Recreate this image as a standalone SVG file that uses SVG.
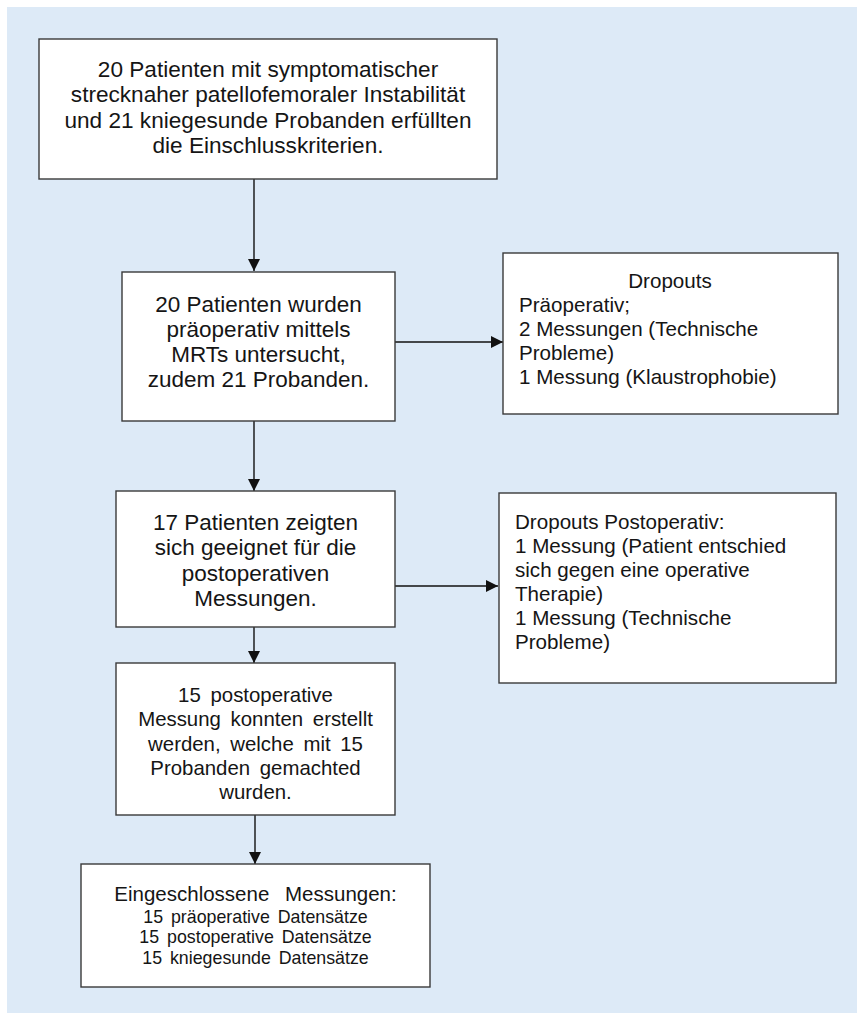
<svg xmlns="http://www.w3.org/2000/svg" width="857" height="1013" viewBox="0 0 857 1013">
<defs>
<marker id="ah" markerWidth="12" markerHeight="12" refX="12" refY="6" orient="auto" markerUnits="userSpaceOnUse">
<path d="M0,0 L12,6 L0,12 Z" fill="#111"/>
</marker>
<style>
.box{fill:#fff;stroke:#3a3a3a;stroke-width:1.4}
.t{font-family:"Liberation Sans",Arial,sans-serif;fill:#151515}
.c{text-anchor:middle}
.f1{font-size:22.6px}
.f2{font-size:22.5px}
.f3{font-size:20.6px}
.f6{font-size:20.4px;word-spacing:4px}
.f7a{font-size:20.5px;word-spacing:10px}
.f7b{font-size:17.8px;word-spacing:3px}
.con{stroke:#111;stroke-width:1.4;fill:none}
</style>
</defs>
<rect x="7" y="7" width="850" height="1006" fill="#ddeaf7"/>
<g id="connectors">
<line class="con" x1="254" y1="179" x2="254" y2="271" marker-end="url(#ah)"/>
<line class="con" x1="395" y1="342" x2="503" y2="342" marker-end="url(#ah)"/>
<line class="con" x1="254" y1="421" x2="254" y2="491" marker-end="url(#ah)"/>
<line class="con" x1="395" y1="586" x2="498" y2="586" marker-end="url(#ah)"/>
<line class="con" x1="254" y1="627" x2="254" y2="663" marker-end="url(#ah)"/>
<line class="con" x1="255" y1="815" x2="255" y2="864" marker-end="url(#ah)"/>
</g>
<g id="n1">
<rect class="box" x="39" y="39" width="458" height="140"/>
<text class="t c f1" x="268" y="77">20 Patienten mit symptomatischer</text>
<text class="t c f1" x="268" y="102.3">strecknaher patellofemoraler Instabilität</text>
<text class="t c f1" x="268" y="127.6">und 21 kniegesunde Probanden erfüllten</text>
<text class="t c f1" x="268" y="153">die Einschlusskriterien.</text>
</g>
<g id="n2">
<rect class="box" x="122" y="272" width="273" height="149"/>
<text class="t c f2" x="258.5" y="311.5">20 Patienten wurden</text>
<text class="t c f2" x="258.5" y="336.5">präoperativ mittels</text>
<text class="t c f2" x="258.5" y="361.5">MRTs untersucht,</text>
<text class="t c f2" x="258.5" y="386.5">zudem 21 Probanden.</text>
</g>
<g id="n3">
<rect class="box" x="503" y="253" width="335" height="161"/>
<text class="t c f3" x="670" y="288">Dropouts</text>
<text class="t f3" x="519" y="312">Präoperativ;</text>
<text class="t f3" x="519" y="336">2 Messungen (Technische</text>
<text class="t f3" x="519" y="359.5">Probleme)</text>
<text class="t f3" x="519" y="383.5">1 Messung (Klaustrophobie)</text>
</g>
<g id="n4">
<rect class="box" x="116" y="491" width="279" height="136"/>
<text class="t c f2" x="255.5" y="530">17 Patienten zeigten</text>
<text class="t c f2" x="255.5" y="555">sich geeignet für die</text>
<text class="t c f2" x="255.5" y="580.5">postoperativen</text>
<text class="t c f2" x="255.5" y="606">Messungen.</text>
</g>
<g id="n5">
<rect class="box" x="499" y="493" width="337" height="190"/>
<text class="t f3" x="515" y="529">Dropouts Postoperativ:</text>
<text class="t f3" x="515" y="553">1 Messung (Patient entschied</text>
<text class="t f3" x="515" y="577">sich gegen eine operative</text>
<text class="t f3" x="515" y="601">Therapie)</text>
<text class="t f3" x="515" y="625">1 Messung (Technische</text>
<text class="t f3" x="515" y="649">Probleme)</text>
</g>
<g id="n6">
<rect class="box" x="116" y="663" width="279" height="152"/>
<text class="t c f6" x="255.5" y="702">15 postoperative</text>
<text class="t c f6" x="255.5" y="726">Messung konnten erstellt</text>
<text class="t c f6" x="255.5" y="750.5">werden, welche mit 15</text>
<text class="t c f6" x="255.5" y="775">Probanden gemachted</text>
<text class="t c f6" x="255.5" y="798.5">wurden.</text>
</g>
<g id="n7">
<rect class="box" x="81" y="864" width="349" height="123"/>
<text class="t c f7a" x="255.5" y="901">Eingeschlossene Messungen:</text>
<text class="t c f7b" x="255.5" y="922.5">15 präoperative Datensätze</text>
<text class="t c f7b" x="255.5" y="943">15 postoperative Datensätze</text>
<text class="t c f7b" x="255.5" y="963.5">15 kniegesunde Datensätze</text>
</g>
</svg>
